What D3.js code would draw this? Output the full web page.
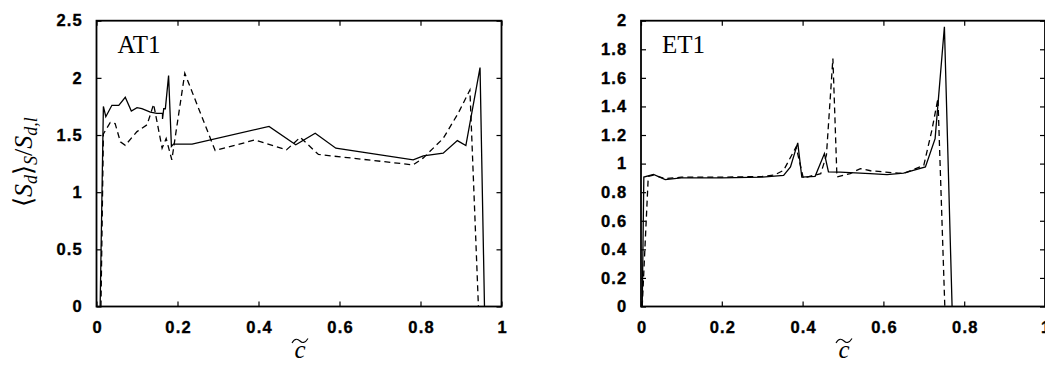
<!DOCTYPE html>
<html>
<head>
<meta charset="utf-8">
<script src="https://cdn.jsdelivr.net/npm/d3@7"></script>
<style>
  html, body { margin: 0; padding: 0; background: #fff; }
  svg { display: block; }
  .tick text { font-family: "Liberation Sans", Arial, sans-serif; font-weight: bold; font-size: 16.5px; letter-spacing: 1.2px; fill: #000; stroke: #000; stroke-width: 0.35px; }
  .domain { display: none; }
  .tick line { stroke: #000; stroke-width: 1.2; }
</style>
</head>
<body>
<svg id="chart" width="1045" height="369"></svg>
<script>
// AT1 panel: solid and dashed curves
const at1SolidC = [0.009, 0.017, 0.023, 0.038, 0.055, 0.071, 0.086, 0.100, 0.112, 0.133, 0.149, 0.163, 0.163, 0.166, 0.170, 0.178, 0.185, 0.190, 0.236, 0.426, 0.492, 0.540, 0.591, 0.782, 0.807, 0.856, 0.891, 0.912, 0.947, 0.958];
const at1SolidV = [0, 1.75, 1.66, 1.76, 1.76, 1.83, 1.71, 1.74, 1.73, 1.70, 1.69, 1.69, 1.64, 1.73, 1.73, 2.02, 1.40, 1.42, 1.42, 1.575, 1.414, 1.516, 1.385, 1.283, 1.318, 1.341, 1.451, 1.408, 2.09, 0];
const at1DashC = [0.011, 0.017, 0.034, 0.046, 0.059, 0.071, 0.100, 0.125, 0.141, 0.162, 0.172, 0.186, 0.218, 0.293, 0.391, 0.469, 0.503, 0.548, 0.782, 0.807, 0.856, 0.893, 0.922, 0.943];
const at1DashV = [0, 1.51, 1.61, 1.60, 1.44, 1.41, 1.53, 1.59, 1.77, 1.385, 1.47, 1.283, 2.04, 1.364, 1.457, 1.37, 1.48, 1.33, 1.239, 1.30, 1.47, 1.69, 1.894, 0];

// ET1 panel: solid and dashed curves
const et1SolidC = [0.003, 0.007, 0.031, 0.060, 0.100, 0.200, 0.300, 0.353, 0.370, 0.388, 0.398, 0.431, 0.454, 0.464, 0.493, 0.567, 0.609, 0.650, 0.704, 0.728, 0.751, 0.770];
const et1SolidV = [0, 0.906, 0.925, 0.888, 0.90, 0.90, 0.905, 0.918, 0.977, 1.145, 0.906, 0.911, 1.07, 0.942, 0.94, 0.93, 0.923, 0.934, 0.977, 1.175, 1.958, 0];
const et1DashC = [0.003, 0.018, 0.031, 0.060, 0.100, 0.200, 0.300, 0.330, 0.353, 0.384, 0.402, 0.411, 0.445, 0.459, 0.475, 0.485, 0.518, 0.543, 0.568, 0.650, 0.700, 0.720, 0.735, 0.752];
const et1DashV = [0, 0.91, 0.92, 0.895, 0.905, 0.905, 0.91, 0.92, 0.953, 1.117, 0.895, 0.906, 0.93, 1.06, 1.736, 0.906, 0.93, 0.965, 0.95, 0.93, 0.988, 1.234, 1.456, 0];

// Axis ticks
const xTicks = [0, 0.2, 0.4, 0.6, 0.8, 1];
const at1YTicks = [0, 0.5, 1, 1.5, 2, 2.5];
const et1YTicks = [0, 0.2, 0.4, 0.6, 0.8, 1, 1.2, 1.4, 1.6, 1.8, 2];

const svg = d3.select("#chart");

const panels = [
  { name: "AT1", x0: 96.5, x1: 501.5, yMax: 2.5, yTicks: at1YTicks,
    solid: [at1SolidC, at1SolidV], dash: [at1DashC, at1DashV], yLabel: true },
  { name: "ET1", x0: 641, x1: 1045, yMax: 2, yTicks: et1YTicks,
    solid: [et1SolidC, et1SolidV], dash: [et1DashC, et1DashV], yLabel: false }
];

const yTop = 20.7, yBottom = 306.5;

panels.forEach(p => {
  const x = d3.scaleLinear().domain([0, 1]).range([p.x0, p.x1]);
  const y = d3.scaleLinear().domain([0, p.yMax]).range([yBottom, yTop]);
  const g = svg.append("g");

  const fmt = d => d3.format("")(d);

  // inward ticks on all four sides
  g.append("g").attr("transform", `translate(0,${yBottom})`)
    .call(d3.axisBottom(x).tickValues(xTicks).tickFormat(fmt).tickSize(-5).tickPadding(14.5))
    .selectAll(".tick text").attr("dx", "0.6px");
  g.append("g").attr("transform", `translate(0,${yTop})`)
    .call(d3.axisTop(x).tickValues(xTicks).tickFormat("").tickSize(-5));
  g.append("g").attr("transform", `translate(${p.x0},0)`)
    .call(d3.axisLeft(y).tickValues(p.yTicks).tickFormat(fmt).tickSize(-5).tickPadding(13.5));
  g.append("g").attr("transform", `translate(${p.x1},0)`)
    .call(d3.axisRight(y).tickValues(p.yTicks).tickFormat("").tickSize(-5));

  // frame
  g.append("rect")
    .attr("x", p.x0).attr("y", yTop)
    .attr("width", p.x1 - p.x0).attr("height", yBottom - yTop)
    .attr("fill", "none").attr("stroke", "#000").attr("stroke-width", 1.8);

  const line = d3.line().x(d => x(d[0])).y(d => y(d[1]));
  const pts = arr => arr[0].map((c, i) => [c, arr[1][i]]);

  g.append("path").datum(pts(p.dash)).attr("d", line)
    .attr("fill", "none").attr("stroke", "#000").attr("stroke-width", 1.3)
    .attr("stroke-dasharray", "6,4");
  g.append("path").datum(pts(p.solid)).attr("d", line)
    .attr("fill", "none").attr("stroke", "#000").attr("stroke-width", 1.3);

  // panel name
  g.append("text")
    .attr("x", p.x0 + 21).attr("y", 53)
    .attr("font-family", "Liberation Serif, serif").attr("font-size", 25)
    .text(p.name);

  // x-axis label: c with a wide tilde
  const cx = (p.x0 + p.x1) / 2 + 1;
  g.append("text")
    .attr("x", cx).attr("y", 358)
    .attr("text-anchor", "middle")
    .attr("font-family", "Liberation Serif, serif").attr("font-style", "italic")
    .attr("font-size", 25)
    .text("c");
  g.append("path")
    .attr("d", `M${cx - 8},343 C${cx - 5},337.5 ${cx - 2},339 ${cx},341 S${cx + 5},343.5 ${cx + 8},338.5`)
    .attr("fill", "none").attr("stroke", "#000").attr("stroke-width", 1.1);

  if (p.yLabel) {
    const t = g.append("text")
      .attr("transform", `translate(32,162) rotate(-90)`)
      .attr("text-anchor", "middle")
      .attr("font-family", "Liberation Serif, serif")
      .attr("font-size", 26);
    t.append("tspan").text("\u27E8");
    t.append("tspan").attr("font-style", "italic").text("S");
    t.append("tspan").attr("font-style", "italic").attr("font-size", 18).attr("dy", 5).text("d");
    t.append("tspan").attr("dy", -5).text("\u27E9");
    t.append("tspan").attr("font-style", "italic").attr("font-size", 18).attr("dy", 5).text("S");
    t.append("tspan").attr("dy", -5).text("/");
    t.append("tspan").attr("font-style", "italic").text("S");
    t.append("tspan").attr("font-style", "italic").attr("font-size", 18).attr("dy", 5).text("d,l");
  }
});
</script>
</body>
</html>
